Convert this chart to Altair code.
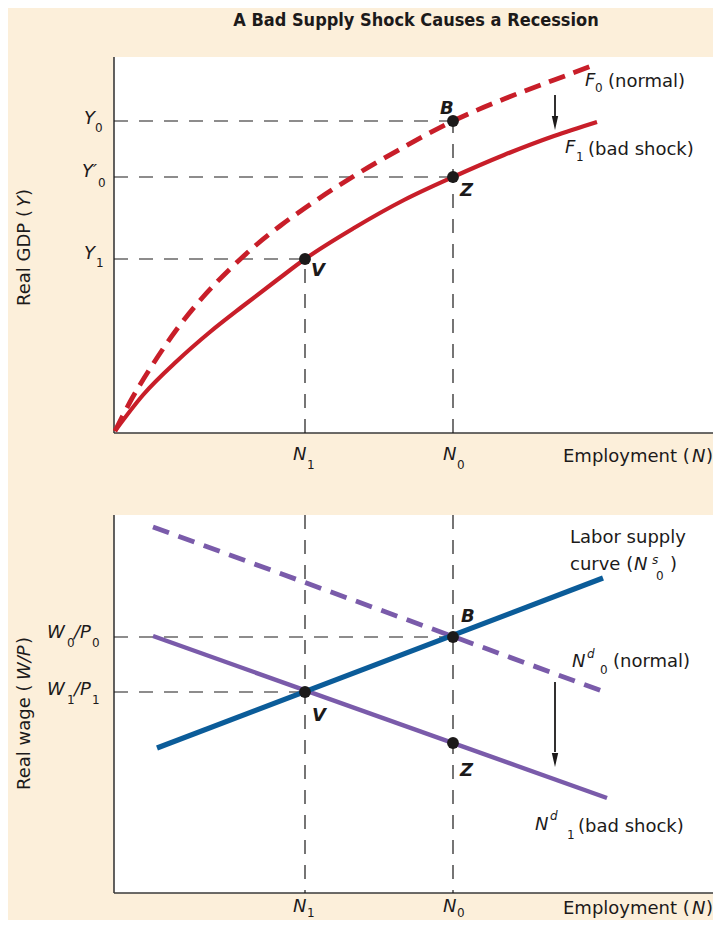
import altair as alt
import pandas as pd

# ------------------------------------------------------------------
# Values (panel-local units: employment N from the
# vertical axis, output / real wage from each panel's horizontal axis)
# ------------------------------------------------------------------
N1, N0 = 191, 339                     # employment levels
Y0, Y0P, Y1 = 312, 256, 174           # output levels (top panel)
W0P0, W1P1, WZ = 256, 201, 150        # real wage levels (bottom panel)

# production functions (top panel)
F0_N = [1, 16, 39, 63, 89, 116, 141, 166, 191, 240, 290, 339, 390, 440, 483]
F0_Y = [2, 31, 69, 104, 136, 164, 187, 207, 225, 257, 286, 312, 334, 353, 369]
F1_N = [1, 29, 63, 96, 129, 163, 191, 240, 290, 339, 390, 440, 483]
F1_Y = [2, 38, 72, 101, 127, 153, 174, 205, 233, 256, 278, 297, 311]

# labour market lines (bottom panel)
NS_N, NS_W = [43, 489], [145, 315]
ND0_N, ND0_W = [39, 491], [366, 201]
ND1_N, ND1_W = [39, 493], [257, 95]

# layout (panel sizes, vertical offset of the top panel)
PANEL_W, VIEW_W, TOP_H, BOT_H, TOP_OFF = 603, 599, 376, 378, 460
TOTAL_H = TOP_OFF + TOP_H

RED, BLUE, PURPLE = "#C81E29", "#0B5C99", "#7A5BAA"
INK, AXIS, BG = "#1c1a1a", "#3a3a3a", "#FCEFDA"
FONT = "DejaVu Sans"

XS = alt.Scale(domain=[0, VIEW_W], nice=False, zero=False)
YS = alt.Scale(domain=[0, TOTAL_H], nice=False, zero=False)


def ex(f="x"):
    return alt.X(f"{f}:Q", scale=XS, axis=None)


def ey(f="y"):
    return alt.Y(f"{f}:Q", scale=YS, axis=None)


def top(vals):
    return [v + TOP_OFF for v in vals]


# panel backgrounds
panels = pd.DataFrame({"x": [0, 0], "x2": [PANEL_W, PANEL_W],
                       "y": [TOP_OFF, 0], "y2": [TOTAL_H, BOT_H]})
bg = alt.Chart(panels).mark_rect(color="white").encode(
    x=ex(), x2="x2:Q", y=ey(), y2="y2:Q")

# axis lines
axes_df = pd.DataFrame({
    "x": [0, 0, 0, 0], "x2": [0, PANEL_W, 0, PANEL_W],
    "y": [TOP_OFF, TOP_OFF, 0, 0], "y2": [TOTAL_H, TOP_OFF, BOT_H, 0]})
axes = alt.Chart(axes_df).mark_rule(color=AXIS, strokeWidth=1.6).encode(
    x=ex(), x2="x2:Q", y=ey(), y2="y2:Q")

# dashed guide lines
guides_df = pd.DataFrame({
    "x":  [0, 0, 0, N0, N1, 0, 0, N0, N1],
    "x2": [N0, N0, N1, N0, N1, N0, N1, N0, N1],
    "y":  top([Y0, Y0P, Y1]) + top([0, 0]) + [W0P0, W1P1, BOT_H, BOT_H],
    "y2": top([Y0, Y0P, Y1]) + top([Y0, Y1]) + [W0P0, W1P1, 0, 0]})
guides = alt.Chart(guides_df).mark_rule(
    color=INK, strokeWidth=1.2, strokeDash=[14, 11]).encode(
    x=ex(), x2="x2:Q", y=ey(), y2="y2:Q")

# curves
f0 = alt.Chart(pd.DataFrame({"x": F0_N, "y": top(F0_Y)})).mark_line(
    color=RED, strokeWidth=4.8, strokeDash=[17, 9], interpolate="monotone"
).encode(x=ex(), y=ey())
f1 = alt.Chart(pd.DataFrame({"x": F1_N, "y": top(F1_Y)})).mark_line(
    color=RED, strokeWidth=4.2, interpolate="monotone").encode(x=ex(), y=ey())
ns = alt.Chart(pd.DataFrame({"x": NS_N, "y": NS_W})).mark_line(
    color=BLUE, strokeWidth=5.2).encode(x=ex(), y=ey())
nd0 = alt.Chart(pd.DataFrame({"x": ND0_N, "y": ND0_W})).mark_line(
    color=PURPLE, strokeWidth=4.8, strokeDash=[17, 10]).encode(x=ex(), y=ey())
nd1 = alt.Chart(pd.DataFrame({"x": ND1_N, "y": ND1_W})).mark_line(
    color=PURPLE, strokeWidth=4.4).encode(x=ex(), y=ey())

# equilibrium points B, Z, V in both panels
pts_df = pd.DataFrame({"x": [N0, N0, N1, N0, N1, N0],
                       "y": top([Y0, Y0P, Y1]) + [W0P0, W1P1, WZ]})
pts = alt.Chart(pts_df).mark_point(
    filled=True, size=140, color=INK, opacity=1, shape="circle").encode(x=ex(), y=ey())

# shift arrows
ARROW_X = 441
shaft_df = pd.DataFrame({"x": [ARROW_X, ARROW_X], "y": [798, 211], "y2": [775, 141]})
shafts = alt.Chart(shaft_df).mark_rule(color=INK, strokeWidth=1.8).encode(
    x=ex(), y=ey(), y2="y2:Q")
heads = alt.Chart(pd.DataFrame({"x": [ARROW_X, ARROW_X], "y": [770, 133]})).mark_point(
    shape="M-0.45,-1L0.45,-1L0,1Z", filled=True, size=200, color=INK, opacity=1
).encode(x=ex(), y=ey())


def texts(t, xs, ys, size=18, style="normal", weight="normal", angle=0,
          align="left", font=FONT):
    df = pd.DataFrame({"t": t, "x": xs, "y": ys})
    return alt.Chart(df).mark_text(
        align=align, baseline="middle", fontSize=size, fontStyle=style,
        fontWeight=weight, angle=angle, font=font, color=INK
    ).encode(x=ex(), y=ey(), text="t:N")


# italic symbols
IT_T = ["Y", "Y′", "Y", "N", "N", "N", "N", "N", "N", "F", "F",
        "W", "/P", "W", "/P", "N", "N", "N"]
IT_X = [-30, -32, -30, 179, 329, 179, 329, 578, 578, 471, 451,
        -67, -40, -67, -40, 520, 458, 421]
IT_Y = [774, 721, 639, 438, 438, -14, -14, 436, -16, 812, 745,
        260, 260, 203, 203, 328, 231, 68]

# subscripts / superscripts
SUB_T = ["0", "0", "1", "1", "0", "1", "0", "0", "1", "0", "0", "1", "1",
         "0", "0", "1"]
SUB_X = [-19, -16, -18, 193, 343, 193, 343, 481, 462, -47, -22, -47, -22,
         542, 486, 453]
SUB_Y = [765, 710, 630, 428, 428, -20, -20, 805, 736, 250, 250, 193, 193,
         317, 223, 58]
SUP_T = ["s", "d", "d"]
SUP_X = [538, 473, 436]
SUP_Y = [333, 239, 77]

# plain words
TX_T = ["(normal)", "(bad shock)", "Employment (", ")", "Employment (", ")",
        "Labor supply", "curve (", ")", "(normal)", "(bad shock)"]
TX_X = [494, 474, 449, 592, 449, 592, 456, 456, 556, 499, 464]
TX_Y = [811, 743, 436, 436, -16, -16, 355, 328, 328, 231, 66]

# point letters
BI_T = ["B", "Z", "V", "B", "V", "Z"]
BI_X = [326, 346, 197, 347, 198, 346]
BI_Y = [784, 702, 622, 276, 177, 122]

layers = [
    bg, axes, guides, f0, f1, nd0, nd1, ns, pts, shafts, heads,
    texts(IT_T, IT_X, IT_Y, style="italic"),
    texts(SUB_T, SUB_X, SUB_Y, size=12),
    texts(SUP_T, SUP_X, SUP_Y, size=12, style="italic"),
    texts(TX_T, TX_X, TX_Y),
    texts(BI_T, BI_X, BI_Y, style="italic", weight="bold"),
    # rotated axis titles
    texts(["Real GDP (", ")", "Real wage (", ")"], [-89, -89, -89, -89],
          [587, 697, 103, 249], angle=270),
    texts(["Y", "W/P"], [-89, -89], [686, 213], angle=270, style="italic"),
    texts(["A Bad Supply Shock Causes a Recession"], [302], [872], size=18,
          weight="bold", align="center",
          font="Liberation Sans Narrow, DejaVu Sans Condensed, DejaVu Sans"),
]

chart = alt.layer(*layers).properties(
    width=VIEW_W, height=TOTAL_H,
    autosize=alt.AutoSizeParams(type="none"),
    padding={"left": 106, "top": 49, "right": 0, "bottom": 27},
    background=BG,
).configure_view(stroke=None)

chart.save("out.html", embed_options={"renderer": "svg", "actions": False})
